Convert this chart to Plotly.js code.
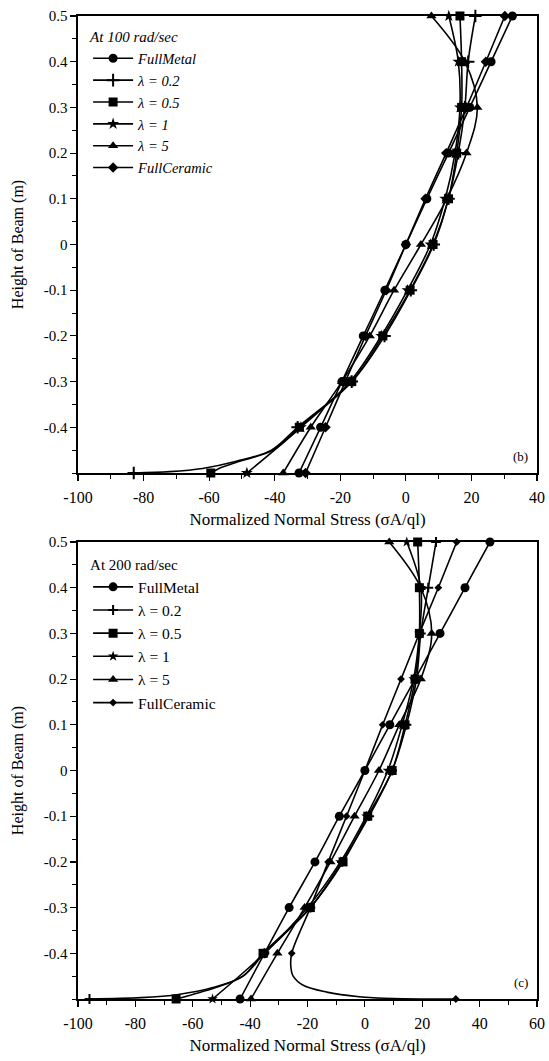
<!DOCTYPE html>
<html>
<head>
<meta charset="utf-8">
<script src="https://cdn.plot.ly/plotly-3.0.1.min.js"></script>
<style>html,body{margin:0;padding:0;background:#fff;}#chart{width:549px;height:1061px;}</style>
</head>
<body>
<div id="chart"></div>
<script>
// ---------- Data ----------
const seriesNames = ["FullMetal", "λ = 0.2", "λ = 0.5", "λ = 1", "λ = 5", "FullCeramic"];

// Heights (m)
const hStd  = [0.5, 0.4, 0.3, 0.2, 0.1, 0, -0.1, -0.2, -0.3, -0.4, -0.5];
const hPlus = [0.5, 0.4, 0.3, 0.2, 0.1, 0, -0.1, -0.2, -0.3, -0.4, -0.45, -0.475, -0.49, -0.497, -0.5];
const hSq   = [0.5, 0.4, 0.3, 0.2, 0.1, 0, -0.1, -0.2, -0.3, -0.4, -0.45, -0.475, -0.49, -0.5];
const hCer200 = [0.5, 0.4, 0.3, 0.2, 0.1, 0, -0.1, -0.2, -0.3, -0.4, -0.43, -0.45, -0.47, -0.485, -0.495, -0.499, -0.5];

// (b) At 100 rad/sec
const metal100   = [32.5, 26, 19.5, 13, 6.4, 0, -6.4, -13, -19.5, -26, -32.6];
const lam02_100  = [21.2, 19, 18, 16, 13, 8.5, 1.5, -6.5, -16.5, -33, -41, -52, -62, -72, -83];
const lam05_100  = [16.5, 17, 17, 15.5, 13, 8.3, 1.3, -7, -16.5, -32.5, -40.5, -51, -57, -59.5];
const lam1_100   = [13.1, 16, 16.5, 15, 12, 7.5, 0.5, -7.5, -17, -32, -48.5];
const lam5_100   = [7.8, 18, 21.8, 18.5, 12.5, 4.6, -3.6, -11, -19.5, -29, -37.4];
const ceramic100 = [30.2, 24.4, 18.5, 12.3, 6, 0, -6, -12.3, -18.5, -24.5, -30.6];

// (c) At 200 rad/sec
const metal200   = [43.6, 34.9, 26.2, 17.5, 8.7, 0, -8.9, -17.4, -26.4, -35, -43.5];
const lam02_200  = [24.8, 22.1, 19.5, 18, 14.5, 9.5, 1.5, -8, -19, -35, -42.5, -53, -65, -78, -96];
const lam05_200  = [18.4, 19, 19, 17.5, 14, 9.5, 1, -7.6, -19, -35.5, -42.5, -52, -60, -65.8];
const lam1_200   = [14.6, 19.5, 19, 17, 13, 8, 0.5, -8.5, -20, -35, -53.1];
const lam5_200   = [8.5, 19.5, 23.3, 19.5, 12, 4.9, -3.6, -12, -21, -30.5, -39.7];
const ceramic200 = [32, 25.6, 19, 12.6, 6.2, 0, -6.4, -12.8, -19, -25.5, -25.8, -25, -21.5, -13.3, -2, 10, 31.7];

// Tick labels
const xTicks100 = [-100, -80, -60, -40, -20, 0, 20, 40];
const xTicks200 = [-100, -80, -60, -40, -20, 0, 20, 40, 60];
const yTicks = [0.5, 0.4, 0.3, 0.2, 0.1, 0, -0.1, -0.2, -0.3, -0.4];
const yTickText = ["0.5", "0.4", "0.3", "0.2", "0.1", "0", "-0.1", "-0.2", "-0.3", "-0.4"];

// ---------- Styles ----------
const FONT = '"Liberation Serif", "Times New Roman", serif';
const markerStyles = [
  {symbol: "circle", size: 9},
  {symbol: "cross-thin", size: 9, line: {width: 2, color: "black"}},
  {symbol: "square", size: 9},
  {symbol: "star", size: 9},
  {symbol: "triangle-up", size: 9},
  {symbol: "diamond", size: 8}
];

function gridIdx(ys) {
  const out = [];
  ys.forEach((v, i) => { if (Math.abs(v * 10 - Math.round(v * 10)) < 1e-6) out.push(i); });
  return out;
}

function mk(name, xs, ys, k, axis, legend, msize) {
  const m = Object.assign({color: "black"}, markerStyles[k]);
  if (msize) m.size = msize;
  return {
    type: "scatter", mode: "lines+markers", name: name,
    x: xs, y: ys, xaxis: axis.x, yaxis: axis.y, legend: legend,
    line: {color: "black", width: 1.6, shape: "spline", smoothing: 1},
    marker: m,
    selectedpoints: gridIdx(ys),
    selected: {marker: {opacity: 1}},
    unselected: {marker: {opacity: 0}},
    cliponaxis: false
  };
}

const A1 = {x: "x", y: "y"}, A2 = {x: "x2", y: "y2"};
const traces = [
  mk(seriesNames[0], metal100, hStd, 0, A1, "legend"),
  mk(seriesNames[1], lam02_100, hPlus, 1, A1, "legend"),
  mk(seriesNames[2], lam05_100, hSq, 2, A1, "legend"),
  mk(seriesNames[3], lam1_100, hStd, 3, A1, "legend"),
  mk(seriesNames[4], lam5_100, hStd, 4, A1, "legend"),
  mk(seriesNames[5], ceramic100, hStd, 5, A1, "legend"),
  mk(seriesNames[0], metal200, hStd, 0, A2, "legend2"),
  mk(seriesNames[1], lam02_200, hPlus, 1, A2, "legend2", 7),
  mk(seriesNames[2], lam05_200, hSq, 2, A2, "legend2"),
  mk(seriesNames[3], lam1_200, hStd, 3, A2, "legend2", 8),
  mk(seriesNames[4], lam5_200, hStd, 4, A2, "legend2"),
  mk(seriesNames[5], ceramic200, hCer200, 5, A2, "legend2", 6)
];

function xAxis(range, ticks, anchor) {
  return {
    range: range, anchor: anchor, tickvals: ticks, ticktext: ticks.map(String),
    ticks: "outside", ticklen: 6, tickwidth: 1.2, tickcolor: "black",
    minor: {dtick: 10, tick0: 0, ticks: "outside", ticklen: 4, tickcolor: "black", tickwidth: 1},
    showline: true, mirror: true, linecolor: "black", linewidth: 1.6,
    showgrid: false, zeroline: false, ticklabelstandoff: 3,
    tickfont: {family: FONT, size: 16, color: "black"},
    title: {text: "Normalized Normal Stress (σA/ql)", font: {family: FONT, size: 17, color: "black"}, standoff: 8}
  };
}
function yAxis(domain, anchor) {
  return {
    range: [-0.5, 0.5], domain: domain, anchor: anchor,
    tickvals: yTicks, ticktext: yTickText,
    ticks: "outside", ticklen: 6, tickwidth: 1.2, tickcolor: "black",
    minor: {dtick: 0.05, tick0: 0, ticks: "outside", ticklen: 4, tickcolor: "black", tickwidth: 1},
    showline: true, mirror: true, linecolor: "black", linewidth: 1.6,
    showgrid: false, zeroline: false,
    tickfont: {family: FONT, size: 15, color: "black"},
    title: {text: "Height of Beam (m)", font: {family: FONT, size: 16, color: "black"}, standoff: 16}
  };
}

const legendBase = {
  bgcolor: "rgba(0,0,0,0)", borderwidth: 0, xanchor: "left", yanchor: "top",
  tracegroupgap: 0, itemwidth: 40
};

const layout = {
  width: 549, height: 1061,
  margin: {l: 78, r: 12, t: 16, b: 62},
  paper_bgcolor: "white", plot_bgcolor: "white",
  font: {family: FONT, color: "black"},
  xaxis: xAxis([-100, 40], xTicks100, "y"),
  yaxis: yAxis([0.5351, 1], "x"),
  xaxis2: xAxis([-100, 60], xTicks200, "y2"),
  yaxis2: yAxis([0, 0.4649], "x2"),
  legend: Object.assign({}, legendBase, {
    x: 0.022, y: 0.993,
    title: {text: "At 100 rad/sec", font: {family: FONT, size: 15, color: "black"}},
    font: {family: FONT, size: 14.5, color: "black", style: "italic"}
  }),
  legend2: Object.assign({}, legendBase, {
    x: 0.022, y: 0.456,
    title: {text: "At 200 rad/sec", font: {family: FONT, size: 15, color: "black"}},
    font: {family: FONT, size: 15.5, color: "black"}
  }),
  annotations: [
    {xref: "x domain", yref: "y domain", x: 0.985, y: 0.015, xanchor: "right", yanchor: "bottom",
     text: "(b)", showarrow: false, font: {family: FONT, size: 13, color: "black"}},
    {xref: "x2 domain", yref: "y2 domain", x: 0.985, y: 0.015, xanchor: "right", yanchor: "bottom",
     text: "(c)", showarrow: false, font: {family: FONT, size: 13, color: "black"}}
  ],
  showlegend: true
};

Plotly.newPlot("chart", traces, layout, {displayModeBar: false, staticPlot: true});
</script>
</body>
</html>
